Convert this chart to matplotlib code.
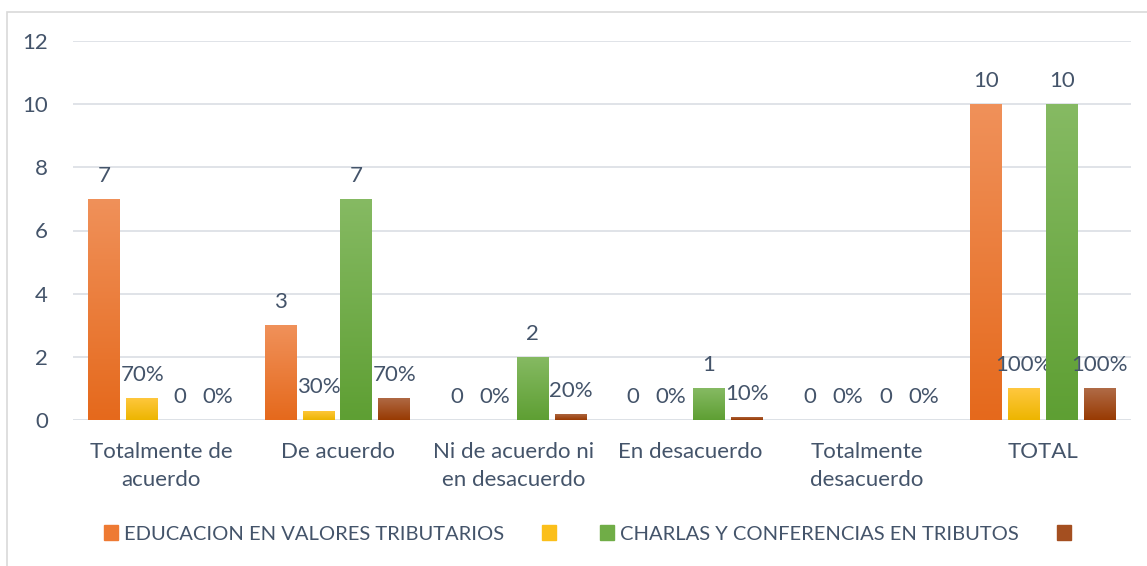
import matplotlib
matplotlib.use("Agg")
import matplotlib.pyplot as plt
import numpy as np
from matplotlib.colors import LinearSegmentedColormap
from matplotlib.patches import Rectangle

plt.rcParams['font.family'] = ['Lato', 'DejaVu Sans']

categories = ["Totalmente de\nacuerdo", "De acuerdo", "Ni de acuerdo ni\nen desacuerdo",
              "En desacuerdo", "Totalmente\ndesacuerdo", "TOTAL"]
educacion = [7, 3, 0, 0, 0, 10]
educacion_pct = [0.70, 0.30, 0.0, 0.0, 0.0, 1.00]
charlas = [0, 7, 2, 1, 0, 10]
charlas_pct = [0.0, 0.70, 0.20, 0.10, 0.0, 1.00]
legend_labels = ["EDUCACION EN VALORES TRIBUTARIOS", "", "CHARLAS Y CONFERENCIAS EN TRIBUTOS", ""]

W, H = 1147, 566
fig = plt.figure(figsize=(W / 100, H / 100), dpi=100)
ax = fig.add_axes([73 / W, 1 - 420 / H, (1131 - 73) / W, (420 - 41) / H])

TXT = '#44546A'
GRID = '#DDE1E6'
FS = 16

series = [
    (educacion, False, ('#F0915A', '#E5691C', '#EE7A33')),
    (educacion_pct, True, ('#FFC83F', '#EDB500', '#FBBF1A')),
    (charlas, False, ('#86BA63', '#5E9F33', '#70AD47')),
    (charlas_pct, True, ('#B06B47', '#983A02', '#A44F20')),
]

x = np.arange(len(categories))
width = 0.181
pitch = 0.215
offsets = (np.arange(4) - 1.5) * pitch

handles = []
for i, (vals, is_pct, (ctop, cbot, cmid)) in enumerate(series):
    bars = ax.bar(x + offsets[i], vals, width, color=ctop, zorder=2)
    cmap = LinearSegmentedColormap.from_list(f"g{i}", [cbot, ctop])
    grad = np.linspace(0, 1, 256).reshape(-1, 1)
    for b, v in zip(bars, vals):
        if v > 0:
            x0 = b.get_x()
            im = ax.imshow(grad, cmap=cmap, origin='lower', aspect='auto',
                           extent=[x0, x0 + b.get_width(), 0, v], zorder=3)
            im.set_clip_path(b)
        label = f"{int(round(v * 100))}%" if is_pct else f"{v:g}"
        ax.annotate(label, (b.get_x() + b.get_width() / 2, v), xytext=(0, 12.3),
                    textcoords='offset points', ha='center', va='baseline',
                    fontsize=FS, color=TXT)
    handles.append(Rectangle((0, 0), 1, 1, color=cmid))

ax.set_xlim(-0.5, len(categories) - 0.5)
ax.set_ylim(0, 12)
ax.set_yticks(range(0, 13, 2))
ax.set_xticks(x)
ax.set_xticklabels(categories, linespacing=1.5)
ax.tick_params(axis='both', length=0, labelsize=FS, labelcolor=TXT)
ax.tick_params(axis='y', pad=18)
ax.tick_params(axis='x', pad=16)
ax.yaxis.grid(True, color=GRID, lw=1.3, zorder=0)
ax.set_axisbelow(True)
for s in ax.spines.values():
    s.set_visible(False)
ax.axhline(0, color=GRID, lw=1.3, zorder=1)

leg = fig.legend(handles, legend_labels, loc='center left',
                 bbox_to_anchor=(104 / W, 1 - 534 / H), ncol=4, frameon=False,
                 fontsize=14.5, labelcolor=TXT, handlelength=0.70, handleheight=0.70,
                 handletextpad=0.30, columnspacing=1.88, borderpad=0, borderaxespad=0)

fig.patches.append(Rectangle((7 / W, -0.1), 1.2, 1 - 12 / H + 0.1, transform=fig.transFigure,
                             fill=False, edgecolor='#D9D9D9', lw=1.2))

fig.savefig("out.png", dpi=100)
